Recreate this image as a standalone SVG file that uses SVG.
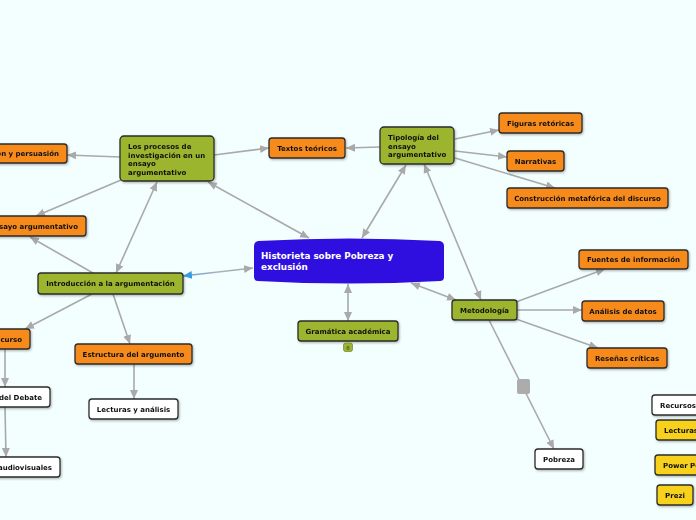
<svg xmlns="http://www.w3.org/2000/svg" width="696" height="520" viewBox="0 0 696 520">
<defs>
<style>
.n{stroke:#2b2b2b;stroke-width:1.3}
.or{fill:#f68b1f}
.gr{fill:#9bb62f}
.wh{fill:#ffffff}
.ye{fill:#f7d11e}
.t{font-family:"DejaVu Sans",Verdana,sans-serif;font-weight:bold;font-size:7px;fill:#111}
.tc{text-anchor:middle}
.te{text-anchor:end}
.c{stroke:#a9a9a9;stroke-width:1.6;fill:none}
.e{marker-end:url(#ah)}
.b{marker-start:url(#ah);marker-end:url(#ah)}
</style>
<marker id="ah" markerUnits="userSpaceOnUse" markerWidth="10" markerHeight="10" refX="9" refY="5" orient="auto-start-reverse" viewBox="0 0 10 10">
<path d="M0,1 L9,5 L0,9 Z" fill="#a9a9a9"/>
</marker>
<marker id="ahb" markerUnits="userSpaceOnUse" markerWidth="10" markerHeight="10" refX="9" refY="5" orient="auto-start-reverse" viewBox="0 0 10 10">
<path d="M0,1 L9,5 L0,9 Z" fill="#3a9ae0"/>
</marker>
<linearGradient id="bg1" gradientUnits="userSpaceOnUse" x1="183" y1="276" x2="253" y2="268">
<stop offset="0" stop-color="#5aa6e0"/>
<stop offset="0.5" stop-color="#a9b2bb"/>
<stop offset="1" stop-color="#a9a9a9"/>
</linearGradient>
<filter id="sh" x="-10%" y="-10%" width="130%" height="140%">
<feDropShadow dx="1" dy="1.2" stdDeviation="0.8" flood-color="#000" flood-opacity="0.3"/>
</filter>
</defs>
<rect width="696" height="520" fill="#f3fffe"/>
<g id="connectors">
<path class="c b" d="M208,182 L309,238"/>
<path class="c b" d="M362,238 L406,165"/>
<path class="c e" d="M380,147 L346,148"/>
<path class="c e" d="M214,155 L269,148"/>
<path class="c e" d="M120,157 L67,155"/>
<path class="c e" d="M121,180 L36,216"/>
<path class="c b" d="M116,273 L157,182"/>
<path class="c e" d="M93,273 L30,237"/>
<path class="c e" d="M92,294 L25,329"/>
<path class="c e" d="M113,294 L130,344"/>
<path class="c e" d="M134,364 L134,399"/>
<path class="c e" d="M5,349 L5,387"/>
<path class="c e" d="M5,407 L6,457"/>
<path d="M183,276 L253,268" stroke="url(#bg1)" stroke-width="1.6" fill="none" marker-start="url(#ahb)" marker-end="url(#ah)"/>
<path class="c b" d="M348,284 L348,321"/>
<path class="c b" d="M411,283 L456,300"/>
<path class="c b" d="M424,164 L481,300"/>
<path class="c e" d="M455,139 L499,130"/>
<path class="c e" d="M455,151 L507,157"/>
<path class="c e" d="M455,158 L555,188"/>
<path class="c e" d="M516,302 L605,269"/>
<path class="c e" d="M517,310 L582,310"/>
<path class="c e" d="M516,319 L598,348"/>
<path class="c e" d="M489,320 L554,449"/>
<rect x="517" y="379" width="13" height="15" rx="2" fill="#acacac"/>
</g>
<g id="central">
<path d="M258,241 Q349,236 440,241 Q444,242 444,246 L444,277 Q444,281 440,281 Q349,286 258,281 Q254,281 254,277 L254,246 Q254,242 258,241 Z" fill="#2f0fe0"/>
<text x="261" y="259" font-family="DejaVu Sans,Verdana,sans-serif" font-weight="bold" font-size="8.8" fill="#ffffff">Historieta sobre Pobreza y</text>
<text x="261" y="270" font-family="DejaVu Sans,Verdana,sans-serif" font-weight="bold" font-size="8.8" fill="#ffffff">exclusión</text>
</g>
<g id="procesos" filter="url(#sh)">
<rect class="n gr" x="120" y="136" width="94" height="45" rx="4"/>
<text class="t" x="128" y="149">Los procesos de</text>
<text class="t" x="128" y="157.5">investigación en un</text>
<text class="t" x="128" y="166">ensayo</text>
<text class="t" x="128" y="174.5">argumentativo</text>
</g>
<g id="persuasion" filter="url(#sh)">
<rect class="n or" x="-10" y="144" width="77" height="19" rx="3"/>
<text class="t te" x="59" y="156">ón y persuasión</text>
</g>
<g id="ensayo" filter="url(#sh)">
<rect class="n or" x="-10" y="216" width="96" height="20" rx="3"/>
<text class="t te" x="78" y="228.5">ensayo argumentativo</text>
</g>
<g id="textos" filter="url(#sh)">
<rect class="n or" x="269" y="138" width="76" height="20" rx="3"/>
<text class="t tc" x="307" y="150.5">Textos teóricos</text>
</g>
<g id="tipologia" filter="url(#sh)">
<rect class="n gr" x="380" y="127" width="74" height="37" rx="4"/>
<text class="t" x="388" y="140">Tipología del</text>
<text class="t" x="388" y="148.5">ensayo</text>
<text class="t" x="388" y="157">argumentativo</text>
</g>
<g id="figuras" filter="url(#sh)">
<rect class="n or" x="499" y="113" width="83" height="20" rx="3"/>
<text class="t tc" x="540.5" y="125.5">Figuras retóricas</text>
</g>
<g id="narrativas" filter="url(#sh)">
<rect class="n or" x="507" y="151" width="57" height="20" rx="3"/>
<text class="t tc" x="535.5" y="163.5">Narrativas</text>
</g>
<g id="construccion" filter="url(#sh)">
<rect class="n or" x="507" y="188" width="161" height="20" rx="3"/>
<text class="t tc" x="587.5" y="200.5">Construcción metafórica del discurso</text>
</g>
<g id="introduccion" filter="url(#sh)">
<rect class="n gr" x="38" y="273" width="145" height="21" rx="3"/>
<text class="t tc" x="110.5" y="286">Introducción a la argumentación</text>
</g>
<g id="curso" filter="url(#sh)">
<rect class="n or" x="-10" y="329" width="40" height="20" rx="3"/>
<text class="t te" x="22" y="341.5">curso</text>
</g>
<g id="estructura" filter="url(#sh)">
<rect class="n or" x="75" y="344" width="117" height="20" rx="3"/>
<text class="t tc" x="133.5" y="356.5">Estructura del argumento</text>
</g>
<g id="debate" filter="url(#sh)">
<rect class="n wh" x="-10" y="387" width="60" height="20" rx="3"/>
<text class="t te" x="42" y="399.5">del Debate</text>
</g>
<g id="audiovisuales" filter="url(#sh)">
<rect class="n wh" x="-10" y="457" width="70" height="20" rx="3"/>
<text class="t te" x="52" y="469.5">audiovisuales</text>
</g>
<g id="lecturas-analisis" filter="url(#sh)">
<rect class="n wh" x="89" y="399" width="89" height="20" rx="3"/>
<text class="t tc" x="133.5" y="411.5">Lecturas y análisis</text>
</g>
<g id="gramatica" filter="url(#sh)">
<rect class="n gr" x="298" y="321" width="100" height="20" rx="3"/>
<text class="t tc" x="348" y="333.5">Gramática académica</text>
</g>
<g id="badge">
<rect x="343.5" y="343" width="9" height="8.5" rx="2" fill="#9bb62f" stroke="#6f8520" stroke-width="0.7"/>
<text x="348" y="349.8" text-anchor="middle" font-family="DejaVu Sans,sans-serif" font-size="5.5" fill="#333">6</text>
</g>
<g id="metodologia" filter="url(#sh)">
<rect class="n gr" x="452" y="300" width="65" height="20" rx="3"/>
<text class="t tc" x="484.5" y="312.5">Metodología</text>
</g>
<g id="fuentes" filter="url(#sh)">
<rect class="n or" x="579" y="250" width="109" height="19" rx="3"/>
<text class="t tc" x="633.5" y="262">Fuentes de información</text>
</g>
<g id="analisis" filter="url(#sh)">
<rect class="n or" x="582" y="301" width="82" height="20" rx="3"/>
<text class="t tc" x="623" y="313.5">Análisis de datos</text>
</g>
<g id="resenas" filter="url(#sh)">
<rect class="n or" x="587" y="348" width="80" height="20" rx="3"/>
<text class="t tc" x="627" y="360.5">Reseñas críticas</text>
</g>
<g id="pobreza" filter="url(#sh)">
<rect class="n wh" x="535" y="449" width="48" height="20" rx="3"/>
<text class="t tc" x="559" y="461.5">Pobreza</text>
</g>
<g id="recursos" filter="url(#sh)">
<rect class="n wh" x="652" y="395" width="60" height="20" rx="3"/>
<text class="t" x="660" y="407.5">Recursos</text>
</g>
<g id="lecturas" filter="url(#sh)">
<rect class="n ye" x="656" y="420" width="60" height="20" rx="3"/>
<text class="t" x="664" y="432.5">Lecturas</text>
</g>
<g id="powerpoint" filter="url(#sh)">
<rect class="n ye" x="655" y="455" width="60" height="20" rx="3"/>
<text class="t" x="663" y="467.5">Power Po</text>
</g>
<g id="prezi" filter="url(#sh)">
<rect class="n ye" x="657" y="485" width="36" height="20" rx="3"/>
<text class="t tc" x="675" y="497.5">Prezi</text>
</g>
</svg>
